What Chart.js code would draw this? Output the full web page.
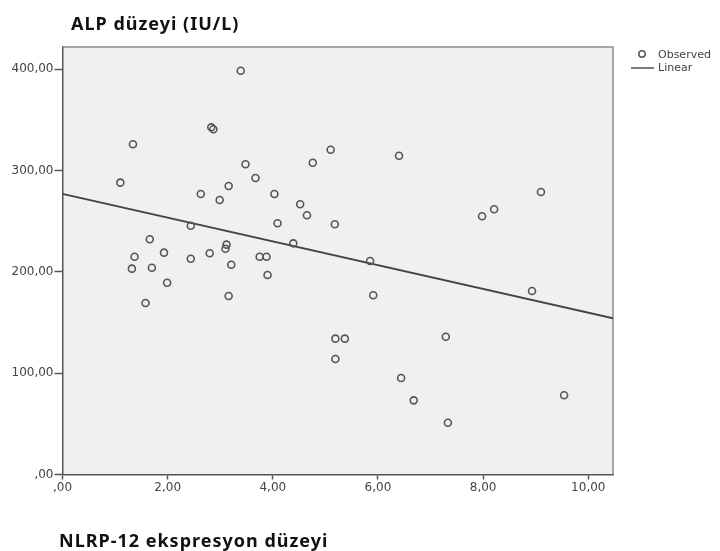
<!DOCTYPE html>
<html>
<head>
<meta charset="utf-8">
<script src="https://cdn.jsdelivr.net/npm/chart.js@4"></script>
<style>
  html, body { margin: 0; padding: 0; background: #fff; }
  #wrap { width: 720px; height: 551px; }
</style>
</head>
<body>
<div id="wrap"><canvas id="scatterChart" width="720" height="551"></canvas></div>
<script>
// observed points
const obsX = [2.83, 2.87, 1.34, 5.10, 4.76, 3.48, 1.10, 3.67, 3.16, 2.63,
              2.99, 4.03, 4.52, 4.65, 4.09, 5.18, 2.44, 4.39, 1.66, 3.12,
              3.10, 1.93, 1.37, 2.80, 2.44, 3.75, 3.88, 3.21, 1.32, 1.70,
              3.90, 1.99, 3.16, 1.58, 6.40, 9.10, 8.21, 7.98, 5.85, 5.91,
              8.93, 5.19, 5.37, 7.29, 5.19, 6.44, 6.68, 9.54, 7.33, 3.39];
const obsY = [342.7, 340.8, 326.0, 320.6, 307.8, 306.2, 288.1, 292.7, 284.8, 276.9,
              271.0, 276.9, 266.7, 255.9, 248.0, 247.0, 245.6, 228.2, 232.2, 226.9,
              222.9, 219.0, 215.0, 218.4, 213.0, 215.0, 215.0, 207.1, 203.2, 204.1,
              196.9, 189.3, 176.2, 169.3, 314.7, 278.9, 261.8, 254.9, 210.8, 176.9,
              181.1, 134.1, 134.1, 136.0, 114.0, 95.3, 73.2, 78.2, 51.1, 398.6];

// linear fit line, ends read at the frame edges
const fitX = [0, 10.47];
const fitY = [276.9, 154.2];

const xTicks = [0, 2, 4, 6, 8, 10];
const yTicks = [0, 100, 200, 300, 400];

const titleText = "ALP düzeyi (IU/L)";
const xTitleText = "NLRP-12 ekspresyon düzeyi";

function fmt(v) {
  if (v === 0) return ",00";
  return v.toFixed(2).replace(".", ",");
}

const frameBg = {
  id: "frameBg",
  beforeDraw(chart) {
    const { ctx, chartArea: a } = chart;
    ctx.save();
    ctx.fillStyle = "#f0f0f0";
    ctx.fillRect(a.left, a.top, a.right - a.left, a.bottom - a.top);
    ctx.restore();
  },
  beforeDatasetsDraw(chart) {
    const { ctx, chartArea: a } = chart;
    ctx.save();
    ctx.strokeStyle = "#8a8a8a";
    ctx.lineWidth = 1.5;
    ctx.beginPath();
    ctx.moveTo(a.left, a.top);
    ctx.lineTo(a.right, a.top);
    ctx.lineTo(a.right, a.bottom);
    ctx.stroke();
    ctx.restore();
  },
  afterDraw(chart) {
    const { ctx } = chart;
    ctx.save();
    // titles
    ctx.fillStyle = "#111";
    ctx.textBaseline = "alphabetic";
    ctx.font = "bold 18px 'Noto Sans'";
    ctx.letterSpacing = "1px";
    ctx.fillText(titleText, 71, 30);
    ctx.fillText(xTitleText, 59, 547);
    ctx.letterSpacing = "0px";
    // legend
    ctx.font = "11px 'DejaVu Sans'";
    ctx.fillStyle = "#444";
    ctx.textBaseline = "middle";
    ctx.fillText("Observed", 658, 55);
    ctx.fillText("Linear", 658, 68);
    ctx.strokeStyle = "#555";
    ctx.lineWidth = 1.5;
    ctx.beginPath();
    ctx.arc(642, 54, 3.2, 0, Math.PI * 2);
    ctx.stroke();
    ctx.beginPath();
    ctx.moveTo(631, 68);
    ctx.lineTo(654, 68);
    ctx.stroke();
    ctx.restore();
  }
};

new Chart(document.getElementById("scatterChart"), {
  type: "scatter",
  data: {
    datasets: [
      {
        label: "Observed",
        data: obsX.map((x, i) => ({ x: x, y: obsY[i] })),
        pointStyle: "circle",
        pointRadius: 3.5,
        pointBorderWidth: 1.6,
        borderColor: "#555",
        backgroundColor: "rgba(0,0,0,0)",
        order: 1
      },
      {
        label: "Linear",
        type: "line",
        data: fitX.map((x, i) => ({ x: x, y: fitY[i] })),
        borderColor: "#444",
        borderWidth: 1.8,
        pointRadius: 0,
        fill: false,
        order: 2
      }
    ]
  },
  options: {
    responsive: false,
    animation: false,
    layout: { padding: { left: 0, top: 47, right: 107, bottom: 0 } },
    plugins: {
      legend: { display: false },
      title: { display: false },
      tooltip: { enabled: false }
    },
    scales: {
      x: {
        type: "linear",
        min: 0,
        max: 10.47,
        afterFit: s => { s.height = 76.5; },
        afterBuildTicks: s => { s.ticks = xTicks.map(v => ({ value: v })); },
        grid: { drawOnChartArea: false, drawTicks: true, tickLength: 5, color: "#555", tickWidth: 1.5 },
        border: { display: true, color: "#555", width: 1.5 },
        ticks: {
          padding: 1,
          color: "#444",
          font: { family: "DejaVu Sans", size: 12 },
          maxRotation: 0,
          callback: v => fmt(v)
        }
      },
      y: {
        type: "linear",
        min: 0,
        max: 422,
        afterFit: s => { s.width = 62.5; },
        afterBuildTicks: s => { s.ticks = yTicks.map(v => ({ value: v })); },
        grid: { drawOnChartArea: false, drawTicks: true, tickLength: 8, color: "#555", tickWidth: 1.5 },
        border: { display: true, color: "#555", width: 1.5 },
        ticks: {
          padding: 1,
          color: "#444",
          font: { family: "DejaVu Sans", size: 12 },
          callback: v => fmt(v)
        }
      }
    }
  },
  plugins: [frameBg]
});
</script>
</body>
</html>
